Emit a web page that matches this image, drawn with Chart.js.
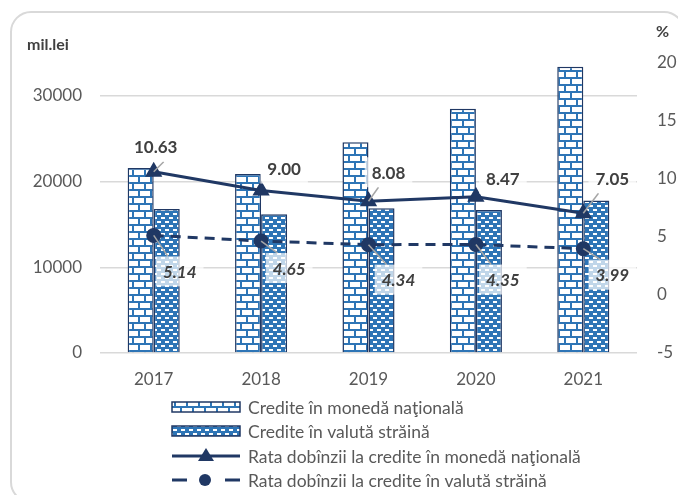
<!DOCTYPE html>
<html>
<head>
<meta charset="utf-8">
<script src="https://cdn.jsdelivr.net/npm/chart.js@4.4.1/dist/chart.umd.min.js"></script>
<style>
  html, body { margin: 0; padding: 0; background: #fff; }
  #wrap { width: 678px; height: 495px; }
</style>
</head>
<body>
<div id="wrap"><canvas id="rateChart" width="678" height="495"></canvas></div>
<script>
const years = ["2017", "2018", "2019", "2020", "2021"];
const creditNational = [21600, 20900, 24600, 28500, 33400];
const creditForeign = [16800, 16200, 16900, 16700, 17800];
const rateNational = [10.63, 9.0, 8.08, 8.47, 7.05];
const rateForeign = [5.14, 4.65, 4.34, 4.35, 3.99];
const leftTicks = [0, 10000, 20000, 30000];

const legendNames = [
  "Credite în monedă naţională",
  "Credite în valută străină",
  "Rata dobînzii la credite în monedă naţională",
  "Rata dobînzii la credite în valută străină",
];

// label placement (offset from the point, px)
const natLabelOffset = [[2, -25], [23, -22], [20, -29], [27, -18], [29, -35]];
const forLabelOffset = [[26, 36], [28, 27], [30, 35], [27, 35], [29, 26]];

const navy = "#203864";
const blue = "#2E75B6";
const textGrey = "#595959";
const FONT = "Lato, 'Open Sans', sans-serif";

Chart.defaults.font.family = FONT;
Chart.defaults.color = textGrey;

function brickPattern() {
  const c = document.createElement("canvas");
  c.width = 12;
  c.height = 14;
  const g = c.getContext("2d");
  g.fillStyle = "#fff";
  g.fillRect(0, 0, 12, 14);
  g.fillStyle = blue;
  g.fillRect(0, 0, 12, 2);
  g.fillRect(0, 7, 12, 2);
  g.fillRect(0, 2, 2, 5);
  g.fillRect(6, 9, 2, 5);
  return g.createPattern(c, "repeat");
}

function dashPattern() {
  const c = document.createElement("canvas");
  c.width = 8;
  c.height = 8;
  const g = c.getContext("2d");
  g.fillStyle = blue;
  g.fillRect(0, 0, 8, 8);
  g.fillStyle = "#fff";
  g.fillRect(1, 1, 4, 2);
  g.fillRect(5, 5, 3, 2);
  g.fillRect(0, 5, 1, 2);
  return g.createPattern(c, "repeat");
}

const bricks = brickPattern();
const dots = dashPattern();

// frame, axis units and legend
const decorPlugin = {
  id: "decor",
  beforeDraw(chart) {
    const ctx = chart.ctx;
    ctx.save();
    ctx.strokeStyle = "#d9d9d9";
    ctx.lineWidth = 2;
    ctx.beginPath();
    ctx.roundRect(11, 12, 673, 490, 20);
    ctx.stroke();
    ctx.restore();
  },
  afterDraw(chart) {
    const ctx = chart.ctx;
    ctx.save();
    ctx.fillStyle = "#404040";
    ctx.font = "bold 16px " + FONT;
    ctx.textBaseline = "middle";
    ctx.textAlign = "left";
    ctx.fillText("mil.lei", 27, 45);
    ctx.fillText("%", 656, 32);

    const rowY = [407, 431, 456, 480];
    const x0 = 172, x1 = 240;
    rowY.forEach((y, i) => {
      if (i < 2) {
        ctx.fillStyle = i === 0 ? bricks : dots;
        ctx.fillRect(x0, y - 5, x1 - x0, 10);
        ctx.strokeStyle = navy;
        ctx.lineWidth = 1.5;
        ctx.strokeRect(x0, y - 5, x1 - x0, 10);
      } else {
        ctx.strokeStyle = navy;
        ctx.fillStyle = navy;
        ctx.lineWidth = 3;
        ctx.beginPath();
        if (i === 2) {
          ctx.moveTo(x0, y);
          ctx.lineTo(x1, y);
          ctx.stroke();
          ctx.beginPath();
          ctx.moveTo(206, y - 8);
          ctx.lineTo(214, y + 5);
          ctx.lineTo(198, y + 5);
          ctx.closePath();
          ctx.fill();
        } else {
          ctx.moveTo(x0, y); ctx.lineTo(x0 + 15, y);
          ctx.moveTo(x1 - 15, y); ctx.lineTo(x1, y);
          ctx.stroke();
          ctx.beginPath();
          ctx.arc(205, y, 6, 0, Math.PI * 2);
          ctx.fill();
        }
      }
      ctx.fillStyle = textGrey;
      ctx.font = "17.5px " + FONT;
      ctx.fillText(legendNames[i], 248, y + 1);
    });
    ctx.restore();
  },
};

// value labels with leader lines
const rateLabels = {
  id: "rateLabels",
  afterDatasetsDraw(chart) {
    const ctx = chart.ctx;
    [[2, natLabelOffset, false], [3, forLabelOffset, true]].forEach(([di, offs, italic]) => {
      const meta = chart.getDatasetMeta(di);
      const vals = chart.data.datasets[di].data;
      meta.data.forEach((pt, i) => {
        const txt = vals[i].toFixed(2);
        ctx.save();
        ctx.font = (italic ? "italic " : "") + "bold 17px " + FONT;
        const w = ctx.measureText(txt).width;
        const cx = pt.x + offs[i][0];
        const cy = pt.y + offs[i][1];
        const bw = w + 14, bh = 30;
        const bx = cx - bw / 2, by = cy - bh / 2;
        const tx = Math.min(Math.max(pt.x, bx), bx + bw);
        const ty = pt.y < by ? by : (pt.y > by + bh ? by + bh : pt.y);
        if (Math.hypot(tx - pt.x, ty - pt.y) > 8) {
          ctx.strokeStyle = "#a6a6a6";
          ctx.lineWidth = 1.5;
          ctx.beginPath();
          ctx.moveTo(pt.x, pt.y);
          ctx.lineTo(tx + (italic ? 12 : 10), ty);
          ctx.stroke();
        }
        ctx.fillStyle = "rgba(255,255,255,0.7)";
        ctx.fillRect(bx, by, bw, bh);
        ctx.fillStyle = "#404040";
        ctx.textAlign = "center";
        ctx.textBaseline = "middle";
        ctx.fillText(txt, cx, cy + 1);
        ctx.restore();
      });
    });
  },
};

new Chart(document.getElementById("rateChart"), {
  data: {
    labels: years,
    datasets: [
      {
        type: "bar",
        label: legendNames[0],
        data: creditNational,
        yAxisID: "y",
        backgroundColor: bricks,
        borderColor: navy,
        borderWidth: 1.5,
        barPercentage: 1,
        categoryPercentage: 0.485,
        order: 2,
      },
      {
        type: "bar",
        label: legendNames[1],
        data: creditForeign,
        yAxisID: "y",
        backgroundColor: dots,
        borderColor: navy,
        borderWidth: 1.5,
        barPercentage: 1,
        categoryPercentage: 0.485,
        order: 2,
      },
      {
        type: "line",
        label: legendNames[2],
        data: rateNational,
        yAxisID: "y1",
        borderColor: navy,
        backgroundColor: navy,
        borderWidth: 3,
        pointStyle: "triangle",
        pointRadius: 8,
        pointBorderWidth: 2,
        tension: 0,
        order: 1,
      },
      {
        type: "line",
        label: legendNames[3],
        data: rateForeign,
        yAxisID: "y1",
        borderColor: navy,
        backgroundColor: navy,
        borderWidth: 3,
        borderDash: [10, 7],
        pointStyle: "circle",
        pointRadius: 6,
        tension: 0,
        order: 1,
      },
    ],
  },
  options: {
    responsive: false,
    animation: false,
    devicePixelRatio: 1,
    layout: { padding: { left: 0, right: 0, top: 63, bottom: 102 } },
    scales: {
      x: {
        grid: { display: false, drawTicks: false },
        border: { display: false },
        ticks: { padding: 16, font: { size: 17 } },
        afterFit(scale) { scale.height = 40; },
      },
      y: {
        position: "left",
        min: 0,
        max: 33840,
        grid: { color: "#d9d9d9", lineWidth: 1.5, drawTicks: false },
        border: { display: false },
        ticks: { padding: 18, font: { size: 17 }, callback: (v) => String(v) },
        afterBuildTicks(scale) { scale.ticks = leftTicks.map((v) => ({ value: v })); },
        afterFit(scale) { scale.width = 100; },
      },
      y1: {
        position: "right",
        min: -5,
        max: 20,
        grid: { display: false, drawTicks: false },
        border: { display: false },
        ticks: { stepSize: 5, padding: 20, font: { size: 17 } },
        afterFit(scale) { scale.width = 41; },
      },
    },
    plugins: {
      legend: { display: false },
      tooltip: { enabled: false },
    },
  },
  plugins: [decorPlugin, rateLabels],
});
</script>
</body>
</html>
